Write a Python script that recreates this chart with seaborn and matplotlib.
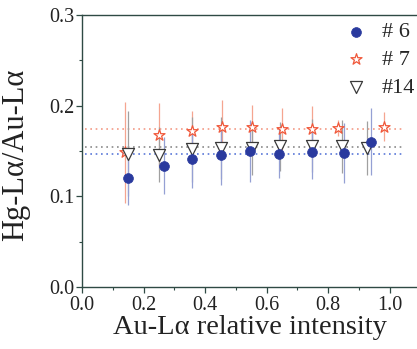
import matplotlib
matplotlib.use("Agg")
import matplotlib.pyplot as plt
import seaborn as sns
import pandas as pd
from matplotlib.ticker import MultipleLocator

sns.set_style("ticks")
plt.rcParams['font.family'] = ['Liberation Serif', 'DejaVu Serif']

# data
x6 = [0.151, 0.267, 0.359, 0.452, 0.546, 0.641, 0.748, 0.853, 0.941]
y6 = [0.120, 0.134, 0.141, 0.146, 0.150, 0.147, 0.149, 0.148, 0.160]
e6 = [0.030, 0.031, 0.032, 0.034, 0.034, 0.027, 0.030, 0.033, 0.037]
x7 = [0.140, 0.251, 0.359, 0.454, 0.554, 0.649, 0.747, 0.831, 0.982]
y7 = [0.1485, 0.168, 0.172, 0.176, 0.176, 0.174, 0.174, 0.175, 0.177]
e7 = [0.056, 0.035, 0.022, 0.030, 0.025, 0.023, 0.026, 0.009, 0.016]
x14 = [0.151, 0.250, 0.357, 0.452, 0.552, 0.644, 0.747, 0.845, 0.926]
y14 = [0.147, 0.146, 0.152, 0.153, 0.153, 0.155, 0.156, 0.155, 0.1535]
e14 = [0.047, 0.030, 0.036, 0.034, 0.030, 0.027, 0.029, 0.029, 0.030]
labels = ["# 6", "# 7", "#14"]
mean_vals = [0.147, 0.174, 0.154]
mean_span = [0.01, 1.045]

c6, c7, c14 = "#2a3a9e", "#f0583a", "#3a3a3a"
bar6, bar7, bar14 = "#95a0d4", "#f5a590", "#a0a0a0"
line6, line7, line14 = "#5a78d8", "#f39a85", "#8a8a8a"

fig = plt.figure(figsize=(4.17, 3.49), dpi=100)
ax = fig.add_axes([82/417, 62/349, 335/417, 272/349])

# mean dotted lines
for yv, lc in zip(mean_vals, [line6, line7, line14]):
    ax.hlines(yv, mean_span[0], mean_span[1], colors=lc, linestyles=(0, (1, 2.2)), linewidth=1.2, zorder=1)

# error bars
ax.errorbar(x7, y7, yerr=e7, fmt='none', ecolor=bar7, elinewidth=0.9, zorder=2)
ax.errorbar(x14, y14, yerr=e14, fmt='none', ecolor=bar14, elinewidth=0.9, zorder=2)
ax.errorbar(x6, y6, yerr=e6, fmt='none', ecolor=bar6, elinewidth=0.9, zorder=2)

d6 = pd.DataFrame({"x": x6, "y": y6})
d7 = pd.DataFrame({"x": x7, "y": y7})
d14 = pd.DataFrame({"x": x14, "y": y14})

sns.scatterplot(data=d7, x="x", y="y", ax=ax, marker="*", s=70, facecolor="white",
                edgecolor=c7, linewidth=0.9, label=labels[1], zorder=3)
sns.scatterplot(data=d14, x="x", y="y", ax=ax, marker="v", s=75, facecolor="white",
                edgecolor=c14, linewidth=0.9, label=labels[2], zorder=4)
sns.scatterplot(data=d6, x="x", y="y", ax=ax, marker="o", s=50, color=c6,
                edgecolor=c6, linewidth=0.5, label=labels[0], zorder=5)

ax.set_xlim(0, 335/307.5)
ax.set_ylim(0, 0.3)
ax.xaxis.set_major_locator(MultipleLocator(0.2))
ax.xaxis.set_minor_locator(MultipleLocator(0.1))
ax.yaxis.set_major_locator(MultipleLocator(0.1))
ax.yaxis.set_minor_locator(MultipleLocator(0.05))
ax.xaxis.set_major_formatter(matplotlib.ticker.FormatStrFormatter('%.1f'))
ax.yaxis.set_major_formatter(matplotlib.ticker.FormatStrFormatter('%.1f'))

spc = "#2f4a44"
for s in ["left", "bottom", "top"]:
    ax.spines[s].set_color(spc)
    ax.spines[s].set_linewidth(1.0)
ax.spines["right"].set_visible(False)
ax.tick_params(axis='both', which='major', length=4, width=0.9, color=spc,
               labelsize=14.5, labelcolor="#222222")
ax.tick_params(axis='x', which='major', pad=2.5)
ax.tick_params(axis='y', which='major', pad=1.5)
ax.tick_params(axis='both', which='minor', length=2.5, width=0.8, color=spc)

ax.set_xlabel("Au-Lα relative intensity", fontsize=20.5, labelpad=0, color="#222222")
ax.set_ylabel("Hg-Lα/Au-Lα", fontsize=22, labelpad=2, color="#222222")
ax.yaxis.set_label_coords(-0.155, 0.485)

handles, labs = ax.get_legend_handles_labels()
order = [labs.index(l) for l in labels]
ax.legend([handles[i] for i in order], [labs[i] for i in order], loc="upper right",
          bbox_to_anchor=(1.035, 1.024), frameon=False, fontsize=16,
          handletextpad=0.45, labelspacing=0.33, borderaxespad=0.2, handlelength=1.4,
          markerscale=1.0)

fig.savefig("out.png", dpi=100, facecolor="white")
